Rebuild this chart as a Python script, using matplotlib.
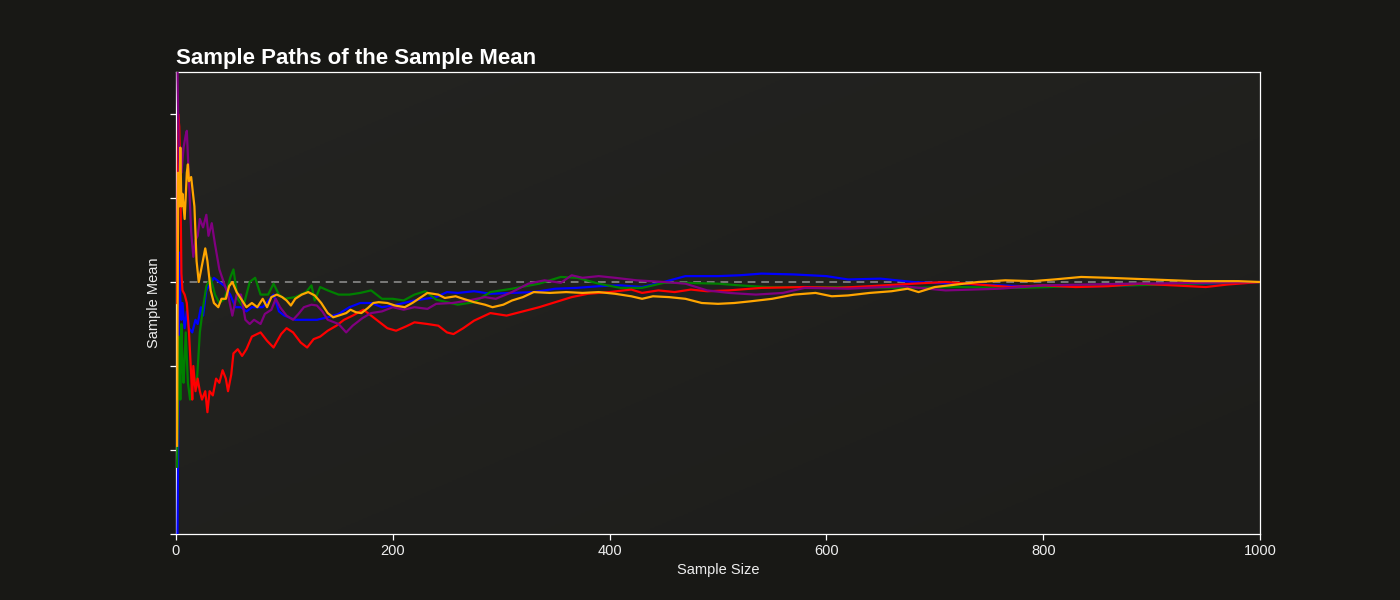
import matplotlib.pyplot as plt
import numpy as np
from matplotlib.colors import LinearSegmentedColormap

plt.rcParams['font.family'] = ['Liberation Sans', 'DejaVu Sans']

# sample paths (x = sample size, y = sample mean, true mean = 0)
blue_n = [1, 2, 3, 4, 5, 6, 8, 10, 12, 15, 18, 20, 23, 25, 28, 35, 40, 45, 50, 55,
          60, 65, 70, 80, 90, 95, 100, 110, 120, 130, 140, 150, 160, 170, 180, 190,
          200, 220, 240, 250, 260, 275, 290, 310, 330, 350, 370, 390, 410, 430, 450,
          470, 500, 520, 540, 570, 600, 620, 650, 680, 720, 760, 800, 850, 900, 950, 1000]
blue_y = [-3.6, -2.0, 0.35, -0.2, -0.45, -0.25, -0.55, -0.35, -0.55, -0.6, -0.45, -0.5,
          -0.3, -0.4, -0.1, 0.05, 0.0, -0.05, -0.15, -0.3, -0.3, -0.35, -0.3, -0.3,
          -0.15, -0.35, -0.4, -0.45, -0.45, -0.45, -0.42, -0.38, -0.3, -0.25, -0.25,
          -0.3, -0.28, -0.22, -0.18, -0.12, -0.13, -0.11, -0.14, -0.13, -0.12, -0.08,
          -0.07, -0.05, -0.04, -0.06, 0.0, 0.07, 0.07, 0.08, 0.1, 0.09, 0.07, 0.03,
          0.04, 0.0, -0.02, -0.04, -0.06, -0.05, -0.03, -0.02, 0.0]

green_n = [1, 2, 3, 4, 5, 6, 7, 9, 11, 13, 16, 19, 22, 25, 28, 32, 36, 40, 45, 50,
           53, 57, 62, 68, 73, 78, 85, 90, 95, 100, 110, 120, 125, 128, 133, 140, 150,
           160, 170, 180, 190, 200, 210, 220, 230, 240, 260, 275, 290, 310, 335, 355,
           370, 390, 410, 430, 450, 470, 500, 520, 545, 575, 620, 670, 720, 780, 830,
           880, 940, 1000]
green_y = [-2.2, -1.3, -0.65, -1.4, -0.5, -1.0, -1.2, -0.6, -1.2, -1.4, -1.1, -1.25,
           -0.6, -0.3, -0.05, 0.05, -0.15, -0.25, -0.2, 0.05, 0.15, -0.2, -0.3, 0.0,
           0.05, -0.15, -0.15, -0.02, -0.15, -0.2, -0.18, -0.12, -0.04, -0.22, -0.06,
           -0.1, -0.15, -0.15, -0.13, -0.1, -0.2, -0.2, -0.22, -0.15, -0.11, -0.21,
           -0.27, -0.24, -0.12, -0.08, -0.02, 0.06, 0.05, -0.02, -0.07, -0.07, -0.01,
           -0.01, -0.02, -0.04, -0.06, -0.06, -0.06, -0.07, -0.06, -0.07, -0.05, -0.04,
           -0.02, 0.0]

red_n = [1, 2, 3, 4, 5, 6, 8, 10, 12, 14, 15, 16, 18, 20, 22, 24, 27, 29, 31, 34,
         37, 40, 43, 46, 48, 51, 53, 57, 61, 65, 70, 78, 84, 90, 97, 102, 108, 115,
         121, 127, 133, 140, 148, 155, 163, 170, 173, 180, 188, 195, 203, 212, 220,
         232, 242, 250, 256, 265, 275, 290, 305, 320, 335, 350, 365, 380, 400, 420,
         430, 445, 460, 475, 490, 510, 540, 580, 610, 640, 680, 710, 740, 770, 800,
         830, 860, 890, 920, 950, 970, 1000]
red_y = [-0.25, 2.0, 1.85, 1.3, 0.1, -0.1, -0.15, -0.25, -0.6, -1.1, -1.4, -1.0, -1.3,
         -1.15, -1.3, -1.4, -1.3, -1.55, -1.3, -1.35, -1.15, -1.2, -1.05, -1.15, -1.3,
         -1.1, -0.85, -0.8, -0.88, -0.8, -0.65, -0.6, -0.7, -0.78, -0.62, -0.55, -0.6,
         -0.72, -0.78, -0.68, -0.65, -0.58, -0.52, -0.45, -0.4, -0.35, -0.33, -0.4,
         -0.48, -0.55, -0.58, -0.53, -0.48, -0.5, -0.52, -0.6, -0.62, -0.55, -0.46,
         -0.37, -0.4, -0.35, -0.3, -0.24, -0.18, -0.14, -0.12, -0.09, -0.13, -0.1,
         -0.12, -0.09, -0.11, -0.1, -0.07, -0.06, -0.07, -0.05, -0.02, 0.0, -0.03,
         -0.06, -0.04, -0.06, -0.05, -0.02, -0.04, -0.06, -0.03, 0.0]

purple_n = [1, 2, 3, 4, 5, 7, 9, 10, 12, 14, 16, 18, 20, 22, 25, 28, 30, 33, 36, 40,
            44, 48, 52, 56, 60, 64, 68, 72, 78, 82, 88, 92, 96, 102, 108, 113, 118,
            125, 130, 135, 140, 150, 157, 163, 172, 180, 190, 200, 210, 220, 232, 240,
            255, 270, 285, 295, 310, 325, 340, 355, 365, 375, 390, 405, 425, 450, 470,
            490, 510, 535, 560, 580, 620, 670, 710, 760, 800, 880, 950, 1000]
purple_y = [2.9, 2.0, 1.2, 1.6, 1.3, 1.6, 1.75, 1.8, 1.2, 0.6, 0.3, 0.5, 0.55, 0.75,
            0.65, 0.8, 0.55, 0.7, 0.45, 0.15, 0.0, -0.15, -0.4, -0.15, -0.15, -0.45,
            -0.5, -0.45, -0.5, -0.38, -0.33, -0.2, -0.3, -0.4, -0.45, -0.38, -0.3,
            -0.27, -0.28, -0.35, -0.45, -0.5, -0.6, -0.52, -0.43, -0.37, -0.35, -0.3,
            -0.33, -0.3, -0.32, -0.26, -0.25, -0.22, -0.18, -0.2, -0.12, -0.02, 0.02,
            -0.01, 0.08, 0.05, 0.07, 0.05, 0.02, 0.0, -0.02, -0.1, -0.13, -0.15, -0.13,
            -0.07, -0.08, -0.05, -0.1, -0.08, -0.04, -0.02, -0.01, 0.0]

orange_n = [1, 2, 3, 4, 5, 6, 8, 10, 11, 12, 14, 17, 19, 21, 24, 27, 29, 32, 35, 39,
            42, 46, 49, 52, 56, 60, 65, 70, 75, 80, 84, 88, 93, 98, 102, 106, 110, 116,
            122, 128, 134, 140, 145, 150, 157, 161, 166, 171, 177, 182, 187, 195, 202,
            211, 218, 225, 232, 242, 248, 258, 265, 275, 285, 292, 302, 310, 320, 330,
            345, 360, 375, 390, 405, 420, 430, 440, 455, 470, 485, 500, 515, 530, 550,
            570, 590, 605, 620, 640, 660, 675, 685, 700, 720, 740, 765, 790, 810, 835,
            860, 900, 940, 980, 1000]
orange_y = [-1.95, 1.3, 0.9, 1.6, 0.9, 1.05, 0.75, 1.3, 1.4, 1.2, 1.25, 0.9, 0.25, 0.0,
            0.2, 0.4, 0.25, -0.1, -0.25, -0.3, -0.2, -0.2, -0.05, 0.0, -0.12, -0.2,
            -0.3, -0.25, -0.3, -0.2, -0.3, -0.18, -0.15, -0.18, -0.22, -0.28, -0.2,
            -0.15, -0.12, -0.16, -0.25, -0.37, -0.42, -0.4, -0.37, -0.33, -0.36, -0.37,
            -0.31, -0.25, -0.24, -0.25, -0.28, -0.3, -0.25, -0.19, -0.13, -0.15, -0.19,
            -0.17, -0.2, -0.24, -0.27, -0.3, -0.27, -0.22, -0.18, -0.12, -0.13, -0.12,
            -0.13, -0.12, -0.14, -0.17, -0.2, -0.17, -0.18, -0.2, -0.25, -0.26, -0.25,
            -0.23, -0.2, -0.15, -0.13, -0.17, -0.16, -0.13, -0.11, -0.08, -0.12, -0.06,
            -0.03, 0.0, 0.02, 0.01, 0.03, 0.06, 0.05, 0.03, 0.01, 0.01, 0.0]

true_mean = 0.0
x_ticks = [0, 200, 400, 600, 800, 1000]
y_ticks = [-3, -2, -1, 0, 1, 2]

fig = plt.figure(figsize=(14, 6), dpi=100, facecolor='#181815')
ax = fig.add_axes([0.1257, 0.11, 0.7743, 0.77])

# faint diagonal shading of the plot area (lighter top-left, darker bottom-right)
shade_cmap = LinearSegmentedColormap.from_list('shade', ['#1d1d1b', '#242421'])
grad = np.linspace(0, 1, 256)
shade = (grad[:, None] + grad[None, ::-1]) / 2
ax.imshow(shade, cmap=shade_cmap, extent=[0, 1, 0, 1], origin='lower',
          transform=ax.transAxes, aspect='auto', zorder=0)

paths = [(blue_n, blue_y, 'blue'), (green_n, green_y, 'green'),
         (red_n, red_y, 'red'), (purple_n, purple_y, 'purple'),
         (orange_n, orange_y, 'orange')]
for n, y, c in paths:
    ax.plot(n, y, color=c, linewidth=1.6, zorder=3)

ax.axhline(true_mean, color='#8a8a8a', linestyle='--', linewidth=1.4,
           dashes=(4, 3), alpha=0.85, zorder=2)

ax.set_xlim(0, 1000)
ax.set_ylim(-3, 2.5)
ax.set_xticks(x_ticks)
ax.set_yticks(y_ticks)
ax.set_yticklabels([])

for s in ax.spines.values():
    s.set_color('white')
    s.set_linewidth(0.9)
ax.tick_params(colors='white', labelcolor='#eeeeee', labelsize=10.5, length=4, width=0.9)

ax.set_xlabel('Sample Size', color='#eeeeee', fontsize=10.5, labelpad=3)
ax.set_ylabel('Sample Mean', color='#eeeeee', fontsize=10.5, labelpad=3)
ax.set_title('Sample Paths of the Sample Mean', loc='left', color='white',
             fontsize=16, fontweight='bold', pad=6)

plt.savefig('out.png', dpi=100, facecolor=fig.get_facecolor())
